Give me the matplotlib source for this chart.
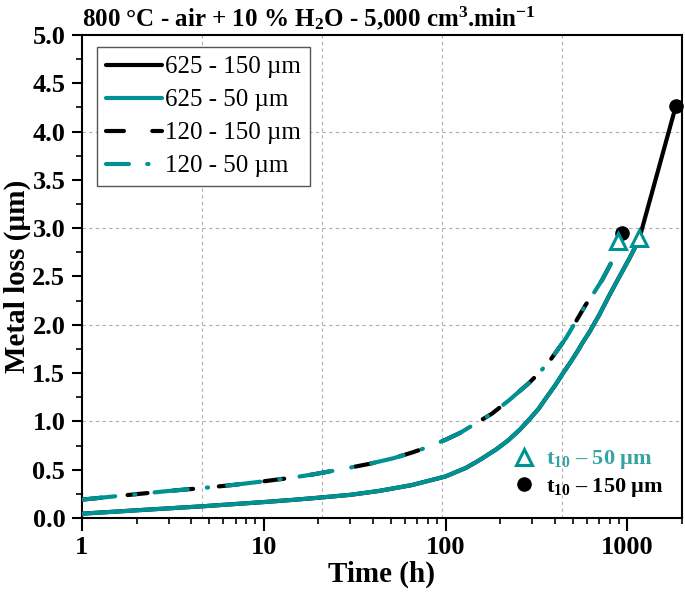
import numpy as np
import matplotlib
matplotlib.use("Agg")
import matplotlib.pyplot as plt
from matplotlib.lines import Line2D

plt.rcParams['font.family'] = ['Liberation Serif', 'DejaVu Serif']
plt.rcParams['mathtext.fontset'] = 'custom'
plt.rcParams['mathtext.rm'] = 'Liberation Serif:bold'
plt.rcParams['mathtext.it'] = 'Liberation Serif:bold'
plt.rcParams['mathtext.bf'] = 'Liberation Serif:bold'
plt.rcParams['mathtext.default'] = 'rm'

# ---- data ----
t_625 = [1, 1.5, 2, 3, 4.5, 7, 10, 15, 20, 30, 43, 65, 100, 130, 154, 190, 220, 255, 289,
         325, 360, 400, 440, 490, 530, 570, 617, 700, 794, 900, 1023, 1160]
m_625_50 = [0.045, 0.065, 0.08, 0.10, 0.12, 0.145, 0.165, 0.19, 0.21, 0.24, 0.28, 0.34, 0.43,
            0.52, 0.60, 0.71, 0.80, 0.91, 1.02, 1.13, 1.25, 1.37, 1.49, 1.62, 1.72, 1.82,
            1.92, 2.10, 2.30, 2.49, 2.68, 2.88]
t_625_150 = t_625 + [1847]
m_625_150 = m_625_50 + [4.26]

t_120 = [1, 1.83, 3, 4.6, 7, 10, 14, 18.5, 26, 38, 52, 66, 81.5, 100, 120, 141, 180, 224,
         289, 330, 372, 410, 459, 520, 592, 660, 730, 810, 894]
m_120_50 = [0.19, 0.24, 0.28, 0.31, 0.345, 0.38, 0.415, 0.45, 0.50, 0.56, 0.62, 0.68, 0.74,
            0.81, 0.88, 0.96, 1.08, 1.22, 1.40, 1.51, 1.62, 1.73, 1.86, 2.03, 2.21, 2.34,
            2.47, 2.63, 2.84]
t_120_150 = t_120 + [940]
m_120_150 = m_120_50 + [2.95]

t10_50_t = [894, 1160]
t10_50_m = [2.87, 2.90]
t10_150_t = [940, 1847]
t10_150_m = [2.95, 4.26]

labels = ['625 - 150 µm', '625 - 50 µm', '120 - 150 µm', '120 - 50 µm']
x_ticks = [1, 10, 100, 1000]
y_ticks = [0.0, 0.5, 1.0, 1.5, 2.0, 2.5, 3.0, 3.5, 4.0, 4.5, 5.0]

TEAL = '#009292'
TEAL_TXT = '#36a3a3'
LW = 3.0

fig = plt.figure(figsize=(6.85, 5.95), dpi=100)
ax = fig.add_axes([0.1197, 0.1294, 0.8759, 0.8118])

ax.set_xscale('log')
ax.set_xlim(1, 2000)
ax.set_ylim(0, 5)

# grid: horizontal every 1.0, vertical at 1/5 of the axis
for yv in [1, 2, 3, 4]:
    ax.axhline(yv, color='#b0b0b0', lw=0.8, ls=(0, (3, 3)), zorder=0)
for f in [0.2, 0.4, 0.6, 0.8]:
    ax.axvline(10 ** (f * np.log10(2000)), color='#b0b0b0', lw=0.8, ls=(0, (3, 3)), zorder=0)

ax.plot(t_625_150, m_625_150, color='black', lw=LW, solid_capstyle='round',
        solid_joinstyle='round', zorder=2)
ax.plot(t_625, m_625_50, color=TEAL, lw=LW, solid_capstyle='round',
        solid_joinstyle='round', zorder=3)
ax.plot(t_120_150, m_120_150, color='black', lw=LW, dashes=(4.8, 6.2),
        dash_capstyle='round', zorder=2)
ax.plot(t_120, m_120_50, color=TEAL, lw=LW, dashes=(8, 4.6, 0.3, 4.6),
        dash_capstyle='round', zorder=3)

ax.plot(t10_150_t, t10_150_m, 'o', color='black', ms=9.5, zorder=5, clip_on=False)
ax.plot(t10_50_t, t10_50_m, '^', mfc='white', mec=TEAL, mew=2.2, ms=11, zorder=6, clip_on=False)

# legend handles (dash patterns shortened to fit the legend sample)
g1 = Line2D([], [], color='black', lw=LW, solid_capstyle='round')
g2 = Line2D([], [], color=TEAL, lw=LW, solid_capstyle='round')
g3 = Line2D([], [], color='black', lw=LW, dashes=(4.3, 6.8), dash_capstyle='round')
g4 = Line2D([], [], color=TEAL, lw=LW, dashes=(5.5, 4.4, 0.3, 4.4), dash_capstyle='round')
leg = ax.legend([g1, g2, g3, g4], labels, loc='upper left', bbox_to_anchor=(0.025, 0.975),
                fontsize=18, handlelength=2.25, handletextpad=0.12, labelspacing=0.42,
                borderpad=0.35, borderaxespad=0, fancybox=False, edgecolor='#555555',
                framealpha=1)
leg.get_frame().set_linewidth(1.0)
ax.add_artist(leg)

h1 = Line2D([], [], marker='^', ls='none', mfc='white', mec=TEAL, mew=2.2, ms=11)
h2 = Line2D([], [], marker='o', ls='none', color='black', ms=9.5)
leg2 = ax.legend([h1, h2], [r't$_{10}$ – 50 µm', r't$_{10}$ – 150 µm'], loc='center left',
                 bbox_to_anchor=(0.718, 0.092), frameon=False, borderpad=0, borderaxespad=0,
                 handletextpad=0.5, labelspacing=0.2, handlelength=1.0,
                 labelcolor=[TEAL_TXT, 'black'], prop={'weight': 'bold', 'size': 16})

ax.set_xticks(x_ticks)
ax.set_xticklabels([str(v) for v in x_ticks])
ax.set_yticks(y_ticks)
ax.set_yticklabels(['%.1f' % v for v in y_ticks])
ax.yaxis.set_minor_locator(matplotlib.ticker.MultipleLocator(0.25))
ax.xaxis.set_minor_locator(matplotlib.ticker.LogLocator(base=10, subs=np.arange(2, 10), numticks=20))
ax.xaxis.set_minor_formatter(matplotlib.ticker.NullFormatter())
ax.tick_params(which='major', direction='out', length=7, width=1.5, labelsize=19)
ax.tick_params(axis='x', which='major', length=9, pad=4)
ax.tick_params(axis='y', which='major', pad=5)
ax.tick_params(which='minor', direction='out', length=4.5, width=1.2)
for lab in ax.get_xticklabels() + ax.get_yticklabels():
    lab.set_fontweight('bold')
for s in ax.spines.values():
    s.set_linewidth(1.5)

ax.set_xlabel('Time (h)', fontsize=21, fontweight='bold', labelpad=1)
ax.set_ylabel('Metal loss (µm)', fontsize=21, fontweight='bold', labelpad=1)
ax.set_title(r'800 °C - air + 10 % H$_2$O - 5,000 cm$^3$.min$^{-1}$', fontsize=18,
             fontweight='bold', loc='left', pad=6)

fig.savefig('out.png', dpi=100)
